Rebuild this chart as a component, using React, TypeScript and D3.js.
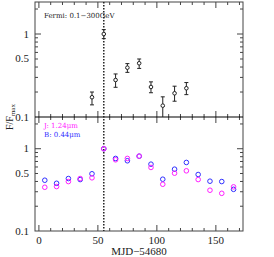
import React, { useEffect, useRef } from 'react';
import * as d3 from 'd3';

// Fermi 0.1-300 GeV points (MJD-54680, F/Fmax, lower, upper)
const fermiX = [45, 55, 65, 75, 85, 95, 105, 115, 125];
const fermiY = [0.173, 1.0, 0.279, 0.393, 0.444, 0.23, 0.137, 0.193, 0.222];
const fermiLo = [0.14, 0.88, 0.228, 0.345, 0.385, 0.196, 0.1, 0.155, 0.186];
const fermiHi = [0.2, 1.13, 0.33, 0.44, 0.5, 0.265, 0.175, 0.235, 0.26];

// optical / NIR points
const optX = [5, 15, 25, 35, 45, 55, 65, 75, 85, 95, 105, 115, 125, 135, 145, 155, 165];
const jBand = [0.34, 0.347, 0.399, 0.434, 0.443, 1.0, 0.734, 0.762, 0.812, 0.592, 0.37, 0.504, 0.539, 0.422, 0.313, 0.287, 0.344];
const bBand = [0.414, 0.38, 0.434, 0.422, 0.496, 1.0, 0.762, 0.714, 0.812, 0.649, 0.426, 0.564, 0.681, 0.486, 0.403, 0.399, 0.321];

const flareDay = 55;
const xTicks = [0, 50, 100, 150];
const yTickLabels = [0.1, 0.5, 1];

export default function App() {
  const ref = useRef<SVGSVGElement>(null);

  useEffect(() => {
    const svg = d3.select(ref.current);
    svg.selectAll('*').remove();

    const left = 35, right = 243, top = 2, mid = 117, bottom = 231;
    const frame = '#444';

    const x = d3.scaleLinear().domain([-3.3, 173]).range([left, right]);
    const yTop = d3.scaleLog().domain([0.1, 2.43]).range([mid, top]);
    const yBot = d3.scaleLog().domain([0.1, 2.43]).range([bottom, mid]);

    const minorX = d3.range(0, 171, 10);
    const minorY = [0.2, 0.3, 0.4, 0.5, 0.6, 0.7, 0.8, 0.9, 2];

    // ticks for a panel
    const drawTicks = (y: d3.ScaleLogarithmic<number, number>, y0: number, y1: number) => {
      const g = svg.append('g').attr('stroke', frame).attr('stroke-width', 1);
      minorX.forEach(v => {
        const len = v % 50 === 0 ? 6 : 3;
        g.append('line').attr('x1', x(v)).attr('x2', x(v)).attr('y1', y0).attr('y2', y0 - len);
        g.append('line').attr('x1', x(v)).attr('x2', x(v)).attr('y1', y1).attr('y2', y1 + len);
      });
      [...minorY, 1].forEach(v => {
        const len = v === 1 ? 6 : 3;
        g.append('line').attr('x1', left).attr('x2', left + len).attr('y1', y(v)).attr('y2', y(v));
        g.append('line').attr('x1', right).attr('x2', right - len).attr('y1', y(v)).attr('y2', y(v));
      });
      g.selectAll('text')
        .data(yTickLabels)
        .join('text')
        .attr('x', 29)
        .attr('y', d => y(d) + 3.5)
        .attr('text-anchor', 'end')
        .attr('stroke', 'none')
        .attr('fill', '#222')
        .attr('font-family', 'Liberation Serif, serif')
        .attr('font-size', 11)
        .text(d => d);
    };
    drawTicks(yTop, mid, top);
    drawTicks(yBot, bottom, mid);

    // frame
    svg.append('rect')
      .attr('x', left).attr('y', top)
      .attr('width', right - left).attr('height', bottom - top)
      .attr('fill', 'none').attr('stroke', frame).attr('stroke-width', 1);
    svg.append('line')
      .attr('x1', left).attr('x2', right).attr('y1', mid).attr('y2', mid)
      .attr('stroke', '#000').attr('stroke-width', 1.2);

    // flare line
    svg.append('line')
      .attr('x1', x(flareDay)).attr('x2', x(flareDay))
      .attr('y1', top).attr('y2', bottom)
      .attr('stroke', '#222').attr('stroke-width', 1.5)
      .attr('stroke-dasharray', '1.5,1.5');

    // Fermi error bars
    const eb = svg.append('g').attr('stroke', '#222').attr('stroke-width', 1);
    fermiX.forEach((v, i) => {
      const cx = x(v);
      const hiY = yTop(fermiHi[i]);
      const loY = Math.min(yTop(fermiLo[i]), mid);
      eb.append('line').attr('x1', cx).attr('x2', cx).attr('y1', hiY).attr('y2', loY);
      eb.append('line').attr('x1', cx - 2).attr('x2', cx + 2).attr('y1', hiY).attr('y2', hiY);
      if (loY < mid) eb.append('line').attr('x1', cx - 2).attr('x2', cx + 2).attr('y1', loY).attr('y2', loY);
      eb.append('circle').attr('cx', cx).attr('cy', yTop(fermiY[i])).attr('r', 1.8)
        .attr('fill', 'white');
    });

    // J and B
    const drawBand = (vals: number[], color: string) => {
      svg.append('g')
        .selectAll('circle')
        .data(vals)
        .join('circle')
        .attr('cx', (d, i) => x(optX[i]))
        .attr('cy', d => yBot(d))
        .attr('r', 2.3)
        .attr('fill', 'none')
        .attr('stroke', color)
        .attr('stroke-width', 1);
    };
    drawBand(bBand, '#3030ff');
    drawBand(jBand, '#ff20ff');

    // x tick labels
    svg.append('g')
      .selectAll('text')
      .data(xTicks)
      .join('text')
      .attr('x', d => x(d))
      .attr('y', 244)
      .attr('text-anchor', 'middle')
      .attr('font-family', 'Liberation Serif, serif')
      .attr('font-size', 11)
      .attr('fill', '#222')
      .text(d => d);

    svg.append('text')
      .attr('x', 139).attr('y', 255)
      .attr('text-anchor', 'middle')
      .attr('font-family', 'Liberation Serif, serif')
      .attr('font-size', 11)
      .attr('fill', '#222')
      .text('MJD\u221254680');

    // y label
    const yl = svg.append('text')
      .attr('transform', 'translate(13,117) rotate(-90)')
      .attr('text-anchor', 'middle')
      .attr('font-family', 'Liberation Serif, serif')
      .attr('font-size', 10)
      .attr('fill', '#222');
    yl.append('tspan').text('F/F');
    yl.append('tspan').attr('font-size', 7).attr('dy', 2).text('max');

    // legends
    const legend = (tx: number, ty: number, txt: string, color: string) =>
      svg.append('text')
        .attr('x', tx).attr('y', ty)
        .attr('font-family', 'DejaVu Serif, serif')
        .attr('font-size', 7)
        .attr('fill', color)
        .text(txt);
    legend(44, 18, 'Fermi: 0.1\u2212300GeV', '#222');
    legend(44, 128, 'J: 1.24\u03bcm', '#ff20ff');
    legend(44, 137, 'B: 0.44\u03bcm', '#3030ff');
  }, []);

  return (
    <svg ref={ref} width={274} height={257}
      style={{ position: 'absolute', left: 0, top: 0, background: 'white' }} />
  );
}
